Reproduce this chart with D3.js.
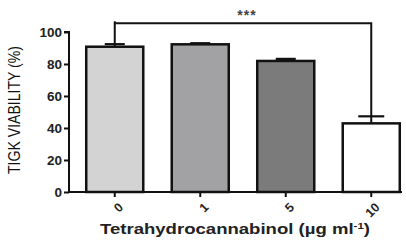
<!DOCTYPE html>
<html>
<head>
<meta charset="utf-8">
<script src="https://cdnjs.cloudflare.com/ajax/libs/d3/7.8.5/d3.min.js"></script>
<style>
	body { margin: 0; background: #fff; }
	svg { display: block; }
	.tick text { font-family: "Liberation Sans", Arial, sans-serif; font-weight: bold; font-size: 13.5px; fill: #222; }
</style>
</head>
<body>
<div class="chart"><svg></svg></div>
<script>
	//DATA
	var doses = ['0', '1', '5', '10'];
	var viability = [90.8, 92.3, 81.9, 42.9];
	var errors = [1.6, 0.7, 1.3, 4.4];
	var fills = ['#d3d3d3', '#a2a2a5', '#7b7b7b', '#ffffff'];
	var yTicks = [0, 20, 40, 60, 80, 100];
	var sigPair = ['0', '10'];
	var sigLabel = '***';

	var width = 406, height = 241;
	var margin = { top: 32, bottom: 49, left: 69, right: 4 };
	var svg = d3.select('svg').attr('width', width).attr('height', height);

	var x = d3.scaleBand()
		.domain(doses)
		.range([margin.left + 3, margin.left + 3 + 4 * 85.5])
		.paddingInner(0.333)
		.paddingOuter(0.1665);

	var y = d3.scaleLinear()
		.domain([0, 100])
		.range([height - margin.bottom, margin.top]);

	var g = svg.append('g');

	// bars
	g.selectAll('.bar')
		.data(doses)
		.enter().append('rect')
		.attr('class', 'bar')
		.attr('x', function(d) { return x(d); })
		.attr('width', x.bandwidth())
		.attr('y', function(d, i) { return y(viability[i]); })
		.attr('height', function(d, i) { return y(0) - y(viability[i]); })
		.style('fill', function(d, i) { return fills[i]; })
		.style('stroke', '#111')
		.style('stroke-width', 2.5);

	// error bars (upper only)
	var capW = [20, 20, 20, 26];
	doses.forEach(function(d, i) {
		var cx = x(d) + x.bandwidth() / 2;
		g.append('line')
			.attr('x1', cx).attr('x2', cx)
			.attr('y1', y(viability[i])).attr('y2', y(viability[i] + errors[i]))
			.style('stroke', '#111').style('stroke-width', 2);
		g.append('line')
			.attr('x1', cx - capW[i] / 2).attr('x2', cx + capW[i] / 2)
			.attr('y1', y(viability[i] + errors[i])).attr('y2', y(viability[i] + errors[i]))
			.style('stroke', '#111').style('stroke-width', 2.2);
	});

	// axes
	var yAxis = g.append('g')
		.attr('transform', 'translate(' + margin.left + ',0)')
		.call(d3.axisLeft(y).tickValues(yTicks).tickSize(5).tickPadding(2));
	yAxis.select('.domain').attr('d', 'M-5,' + y(100) + 'H0V' + y(0)).style('stroke', '#111').style('stroke-width', 2);
	yAxis.selectAll('.tick line').style('stroke', '#111').style('stroke-width', 2);
	yAxis.selectAll('.tick text').attr('dy', '0.36em');

	var xAxis = g.append('g')
		.attr('transform', 'translate(0,' + y(0) + ')')
		.call(d3.axisBottom(x).tickSize(5).tickSizeOuter(0));
	xAxis.select('.domain').attr('d', 'M' + margin.left + ',0H' + (width - margin.right)).style('stroke', '#111').style('stroke-width', 2);
	xAxis.selectAll('.tick line').style('stroke', '#111').style('stroke-width', 2);
	xAxis.selectAll('.tick text')
		.attr('text-anchor', 'end')
		.attr('dy', '0.35em')
		.attr('y', 0)
		.style('font-size', '12.5px')
		.attr('transform', 'translate(6,13) rotate(-45)');

	// significance bracket
	var i0 = doses.indexOf(sigPair[0]), i1 = doses.indexOf(sigPair[1]);
	var bx0 = x(sigPair[0]) + x.bandwidth() / 2;
	var bx1 = x(sigPair[1]) + x.bandwidth() / 2;
	var by = y(105.5);
	g.append('path')
		.attr('d', 'M' + bx0 + ',' + y(viability[i0] + errors[i0]) + 'V' + (by - 2) + 'M' + bx0 + ',' + by + 'H' + bx1 + 'V' + y(viability[i1] + errors[i1]))
		.style('fill', 'none').style('stroke', '#111').style('stroke-width', 2);
	g.append('text')
		.attr('x', (bx0 + bx1) / 2 + 4)
		.attr('y', by - 3)
		.attr('text-anchor', 'middle')
		.attr('letter-spacing', '1px')
		.style('font-family', '"Liberation Sans", Arial, sans-serif')
		.style('font-weight', 'bold')
		.style('font-size', '14px')
		.style('fill', '#444')
		.text(sigLabel);

	// labels
	svg.append('text')
		.attr('transform', 'translate(20,110) rotate(-90)')
		.attr('text-anchor', 'middle')
		.attr('textLength', 128)
		.attr('lengthAdjust', 'spacingAndGlyphs')
		.style('font-family', '"Liberation Sans Narrow", "Arial Narrow", "Liberation Sans", sans-serif')
		.style('font-size', '16px')
		.style('fill', '#111')
		.text('TIGK VIABILITY (%)');

	svg.append('text')
		.attr('x', 235)
		.attr('y', 234)
		.attr('text-anchor', 'middle')
		.attr('textLength', 270)
		.attr('lengthAdjust', 'spacingAndGlyphs')
		.style('font-family', '"Liberation Sans", Arial, sans-serif')
		.style('font-weight', 'bold')
		.style('font-size', '14.5px')
		.style('fill', '#222')
		.html('Tetrahydrocannabinol (µg ml<tspan dy="-5" font-size="9">-1</tspan><tspan dy="5">)</tspan>');
</script>
</body>
</html>
